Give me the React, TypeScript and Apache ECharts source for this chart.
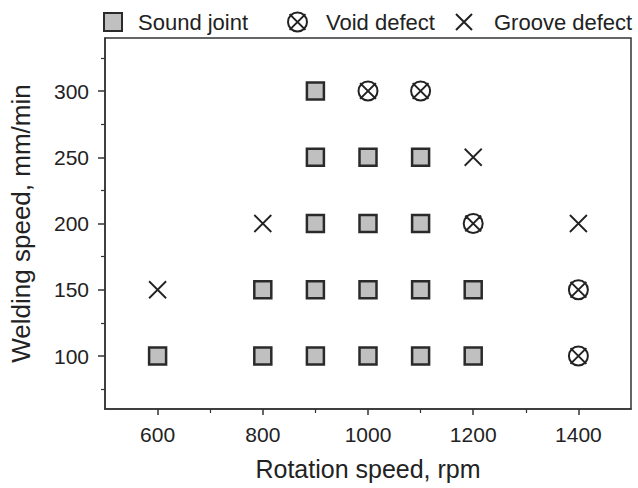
import React, { useEffect, useRef } from "react";
import * as echarts from "echarts";

const soundJoint: [number, number][] = [
  [600, 100], [800, 100], [900, 100], [1000, 100], [1100, 100], [1200, 100],
  [800, 150], [900, 150], [1000, 150], [1100, 150], [1200, 150],
  [900, 200], [1000, 200], [1100, 200],
  [900, 250], [1000, 250], [1100, 250],
  [900, 300],
];
const voidDefect: [number, number][] = [
  [1400, 100], [1400, 150], [1200, 200], [1000, 300], [1100, 300],
];
const grooveDefect: [number, number][] = [
  [600, 150], [800, 200], [1400, 200], [1200, 250],
];
const xMajorTicks = [600, 800, 1000, 1200, 1400];
const xMinorTicks = [700, 900, 1100, 1300];
const yMajorTicks = [100, 150, 200, 250, 300];
const yMinorTicks = [75, 125, 175, 225, 275, 325];

const FONT = "'Liberation Sans', Arial, sans-serif";
const INK = "#333";
const VOID_PATH =
  "path://M1 10 A9 9 0 1 1 19 10 A9 9 0 1 1 1 10 Z M2.5 2.5 L17.5 17.5 M17.5 2.5 L2.5 17.5";
const CROSS_PATH = "path://M0 0 L20 20 M20 0 L0 20";

export default function App() {
  const ref = useRef<HTMLDivElement>(null);
  useEffect(() => {
    if (!ref.current) return;
    const chart = echarts.init(ref.current, null, { renderer: "svg" });
    const axisLine = { show: true, lineStyle: { color: INK, width: 1.5 } };
    const legendText = { fontFamily: FONT, fontSize: 22, color: "#222" };
    const legendBase = {
      top: 11,
      padding: 0,
      orient: "horizontal",
      selectedMode: false,
    };
    chart.setOption({
      animation: false,
      backgroundColor: "#fff",
      legend: [
        { ...legendBase, left: 103, data: ["Sound joint"], itemWidth: 18, itemHeight: 18, textStyle: { ...legendText, padding: [0, 0, 0, 11] } },
        { ...legendBase, left: 287, data: ["Void defect"], itemWidth: 19, itemHeight: 19, textStyle: { ...legendText, padding: [0, 0, 0, 14] } },
        { ...legendBase, left: 455, data: ["Groove defect"], itemWidth: 16, itemHeight: 16, textStyle: { ...legendText, padding: [0, 0, 0, 17] } },
      ],
      grid: {
        left: 105, right: 7, top: 38, bottom: 79,
        show: true, borderColor: INK, borderWidth: 1.5,
        outerBoundsMode: "none",
      },
      xAxis: [
        {
          type: "value", min: 500, max: 1500,
          name: "Rotation speed, rpm", nameLocation: "middle", nameGap: 47,
          nameTextStyle: { fontFamily: FONT, fontSize: 25, color: "#222" },
          axisLine,
          axisTick: { show: true, inside: false, length: 6, customValues: xMajorTicks, lineStyle: { color: INK, width: 1.5 } },
          axisLabel: { customValues: xMajorTicks, margin: 15, fontFamily: FONT, fontSize: 21, color: "#222", formatter: (v: number) => String(v) },
          splitLine: { show: false },
        },
        {
          type: "value", min: 500, max: 1500, position: "bottom", offset: 0,
          axisLine: { show: false, onZero: false },
          axisTick: { show: true, inside: false, length: 4, customValues: xMinorTicks, lineStyle: { color: INK, width: 1.2 } },
          axisLabel: { show: false },
          splitLine: { show: false },
        },
      ],
      yAxis: [
        {
          type: "value", min: 60, max: 340,
          name: "Welding speed, mm/min", nameLocation: "middle", nameGap: 71,
          nameTextStyle: { fontFamily: FONT, fontSize: 26, color: "#222" },
          axisLine,
          axisTick: { show: true, inside: false, length: 7, customValues: yMajorTicks, lineStyle: { color: INK, width: 1.5 } },
          axisLabel: { customValues: yMajorTicks, margin: 16, fontFamily: FONT, fontSize: 21, color: "#222", formatter: (v: number) => String(v) },
          splitLine: { show: false },
        },
        {
          type: "value", min: 60, max: 340, position: "left", offset: 0,
          axisLine: { show: false, onZero: false },
          axisTick: { show: true, inside: false, length: 4, customValues: yMinorTicks, lineStyle: { color: INK, width: 1.2 } },
          axisLabel: { show: false },
          splitLine: { show: false },
        },
      ],
      series: [
        {
          name: "Sound joint", type: "scatter", data: soundJoint,
          symbol: "rect", symbolSize: 17,
          itemStyle: { color: "#c0c0c0", borderColor: "#2a2a2a", borderWidth: 2.5, opacity: 1 },
        },
        {
          name: "Void defect", type: "scatter", data: voidDefect,
          symbol: VOID_PATH, symbolSize: 19,
          itemStyle: { color: "transparent", borderColor: "#222", borderWidth: 2, opacity: 1 },
        },
        {
          name: "Groove defect", type: "scatter", data: grooveDefect,
          symbol: CROSS_PATH, symbolSize: 17,
          itemStyle: { color: "transparent", borderColor: "#222", borderWidth: 1.8, opacity: 1 },
        },
      ],
    });
    return () => chart.dispose();
  }, []);
  return <div ref={ref} style={{ width: 638, height: 488, position: "absolute", left: 0, top: 0 }} />;
}
